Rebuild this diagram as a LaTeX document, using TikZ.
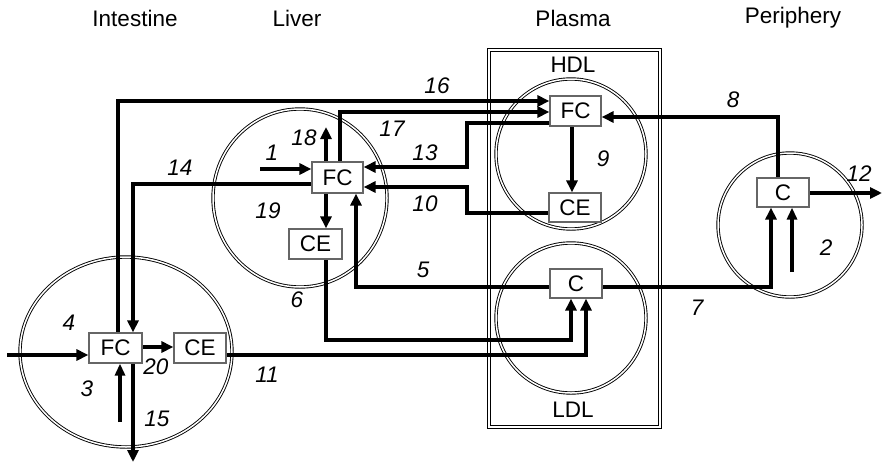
\documentclass[tikz,border=0pt]{standalone}
\usepackage{fontspec}
\setmainfont{Liberation Sans}
\usetikzlibrary{arrows.meta,calc}
\begin{document}
\begin{tikzpicture}[x=1pt,y=-1pt,
  every node/.style={font=\fontsize{22.5}{26}\selectfont},
  hdr/.style={},
  lbl/.style={font=\fontsize{22.5}{26}\selectfont\itshape},
  box/.style={draw=black!60, line width=1.2pt, fill=white, inner sep=0pt},
  comp/.style={draw=black, line width=0.9pt, double=white, double distance=1.5pt},
  flow/.style={line width=3.8pt, -{Triangle[length=12pt,width=11pt]}},
  thinflow/.style={line width=3.2pt, -{Triangle[length=12pt,width=10pt]}}
]
\useasboundingbox (0,0) rectangle (882,463);

% headers
\node[hdr] (hInt) at (135,18) {Intestine};
\node[hdr] (hLiv) at (297,18) {Liver};
\node[hdr] (hPla) at (573,18) {Plasma};
\node[hdr] (hPer) at (793,18) {Periphery};

% compartments
\draw[comp] (489,50) -- (660,50) -- (660,427) -- (489,427) -- cycle;
\draw[comp] (126,352) ellipse [x radius=106, y radius=95];
\draw[comp] (300,198) ellipse [x radius=87, y radius=89];
\draw[comp] (571,154) circle [radius=75];
\draw[comp] (571,318) circle [radius=75];
\draw[comp] (790,225) circle [radius=72];

\node (hdl) at (573,65) {HDL};
\node (ldl) at (573,410) {LDL};

% boxes
\node[box, minimum width=53pt, minimum height=30pt] (iFC) at (115.5,348) {FC};
\node[box, minimum width=52pt, minimum height=30pt] (iCE) at (200,348) {CE};
\node[box, minimum width=51pt, minimum height=31pt] (lFC) at (337.5,177.5) {FC};
\node[box, minimum width=53pt, minimum height=30pt] (lCE) at (315.5,244) {CE};
\node[box, minimum width=51pt, minimum height=30pt] (hFC) at (575.5,111) {FC};
\node[box, minimum width=52pt, minimum height=29pt] (hCE) at (575,207.5) {CE};
\node[box, minimum width=52pt, minimum height=29pt] (dC) at (576,283.5) {C};
\node[box, minimum width=52pt, minimum height=29pt] (pC) at (783,192.5) {C};

% free ends
\coordinate (in1) at (260,169);
\coordinate (in4) at (7,355);
\coordinate (in3) at (120,422);
\coordinate (in2) at (792,272);
\coordinate (out12) at (882,193);
\coordinate (out15) at (133,462);
\coordinate (out18) at (326,127);

% connectors
\draw[flow] (lFC.west |- 0,184) -- (133,184) -- (iFC.north -| 133,0);          % 14
\draw[flow] (iFC.north -| 118,0) -- (118,101) -- (hFC.west |- 0,101);          % 16
\draw[flow] (lFC.north -| 340,0) -- (340,112) -- (hFC.west |- 0,112);          % 17
\draw[flow] (hFC.west |- 0,123) -- (467,123) -- (467,167) -- (lFC.east |- 0,167); % 13
\draw[flow] (hCE.west |- 0,213) -- (467,213) -- (467,187) -- (lFC.east |- 0,187); % 10
\draw[flow] (lFC.north -| 326,0) -- (out18);                                   % 18
\draw[flow] (lFC.south -| 326,0) -- (lCE.north -| 326,0);                      % 19
\draw[flow] (in1) -- (lFC.west |- in1);                                        % 1
\draw[flow] (dC.west |- 0,287) -- (356,287) -- (lFC.south -| 356,0);           % 5
\draw[flow] (dC.east |- 0,287) -- (771,287) -- (pC.south -| 771,0);            % 7
\draw[flow] (lCE.south -| 326,0) -- (326,340) -- (571,340) -- (dC.south -| 571,0); % 6
\draw[flow] (iCE.east |- 0,355) -- (586,355) -- (dC.south -| 586,0);           % 11
\draw[thinflow] (in2) -- (pC.south -| in2);                                    % 2
\draw[flow] (pC.north -| 778,0) -- (778,117) -- (hFC.east |- 0,117);           % 8
\draw[flow] (pC.east |- out12) -- (out12);                                     % 12
\draw[flow] (hFC.south -| 572,0) -- (hCE.north -| 572,0);                      % 9
\draw[flow] (iFC.east |- 0,347) -- (iCE.west |- 0,347);                        % 20
\draw[flow] (in4) -- (iFC.west |- in4);                                        % 4
\draw[thinflow] (in3) -- (iFC.south -| in3);                                   % 3
\draw[flow] (iFC.south -| out15) -- (out15);                                   % 15

% redraw boxes on top of line ends
\node[box, minimum width=53pt, minimum height=30pt] at (iFC) {FC};
\node[box, minimum width=52pt, minimum height=30pt] at (iCE) {CE};
\node[box, minimum width=51pt, minimum height=31pt] at (lFC) {FC};
\node[box, minimum width=53pt, minimum height=30pt] at (lCE) {CE};
\node[box, minimum width=51pt, minimum height=30pt] at (hFC) {FC};
\node[box, minimum width=52pt, minimum height=29pt] at (hCE) {CE};
\node[box, minimum width=52pt, minimum height=29pt] at (dC) {C};
\node[box, minimum width=52pt, minimum height=29pt] at (pC) {C};

% flow labels
\node[lbl] (l1) at (272,153) {1};
\node[lbl] (l2) at (826,248) {2};
\node[lbl] (l3) at (87,389) {3};
\node[lbl] (l4) at (69,323) {4};
\node[lbl] (l5) at (423,270) {5};
\node[lbl] (l6) at (297,300) {6};
\node[lbl] (l7) at (697,308) {7};
\node[lbl] (l8) at (733,100) {8};
\node[lbl] (l9) at (603,159) {9};
\node[lbl] (l10) at (425,204) {10};
\node[lbl] (l11) at (267,375) {11};
\node[lbl] (l12) at (859,174) {12};
\node[lbl] (l13) at (425,153) {13};
\node[lbl] (l14) at (180,168) {14};
\node[lbl] (l15) at (157,419) {15};
\node[lbl] (l16) at (437,86) {16};
\node[lbl] (l17) at (392,129) {17};
\node[lbl] (l18) at (304,138) {18};
\node[lbl] (l19) at (268,211) {19};
\node[lbl] (l20) at (156,367) {20};
\end{tikzpicture}
\end{document}
